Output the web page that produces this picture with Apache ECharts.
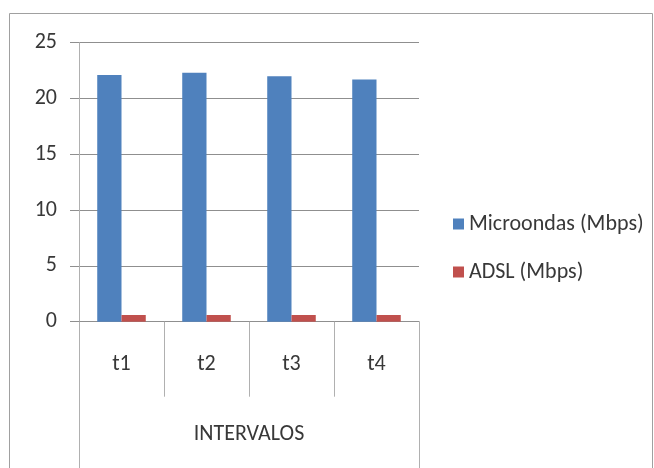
<!DOCTYPE html>
<html>
<head>
<meta charset="utf-8">
<script src="https://cdn.jsdelivr.net/npm/echarts@6/dist/echarts.min.js"></script>
<style>
  html, body { margin: 0; padding: 0; background: #ffffff; }
  #chart { width: 654px; height: 468px; }
</style>
</head>
<body>
<div id="chart"></div>
<script>
// Categories and values
const intervals = ['t1', 't2', 't3', 't4'];
const groupLabel = ['INTERVALOS'];
const microondas = [22.1, 22.3, 22.0, 21.7];
const adsl = [0.6, 0.6, 0.6, 0.6];
const seriesNames = ['Microondas (Mbps)', 'ADSL (Mbps)'];
const yTicks = { min: 0, max: 25, step: 5 };

const FONT = 'Carlito, Lato, "Liberation Sans", sans-serif';
const FONT_SIZE = 22;
const TEXT = '#383838';
const GRID = '#8f8f8f';
const FRAME = '#b0b0b0';

const chart = echarts.init(document.getElementById('chart'), null, { renderer: 'canvas' });

chart.setOption({
  backgroundColor: '#ffffff',
  animation: false,
  textStyle: { fontFamily: FONT },
  graphic: [{
    type: 'rect',
    silent: true,
    shape: { x: 9.5, y: 13.5, width: 643, height: 520 },
    style: { fill: 'none', stroke: '#a0a0a0', lineWidth: 1 }
  }],
  grid: { left: 79, right: 235, top: 42.7, bottom: 146.3, containLabel: false },
  legend: {
    orient: 'vertical',
    left: 453,
    top: 213,
    padding: 0,
    itemWidth: 11,
    itemHeight: 11,
    itemGap: 26,
    icon: 'rect',
    data: seriesNames,
    textStyle: { fontFamily: FONT, fontSize: FONT_SIZE, color: TEXT, lineHeight: 22 }
  },
  xAxis: [{
    type: 'category',
    data: intervals,
    position: 'bottom',
    boundaryGap: true,
    axisLine: { show: true, lineStyle: { color: GRID, width: 1 } },
    axisTick: { show: true, interval: 0, length: 75, lineStyle: { color: FRAME } },
    axisLabel: { margin: 32, fontFamily: FONT, fontSize: FONT_SIZE, color: TEXT, lineHeight: 22 }
  }, {
    type: 'category',
    data: groupLabel,
    position: 'bottom',
    boundaryGap: true,
    axisLine: { show: false },
    axisTick: { show: true, length: 150, lineStyle: { color: FRAME } },
    axisLabel: { margin: 102, fontFamily: FONT, fontSize: FONT_SIZE, color: TEXT, lineHeight: 22 }
  }],
  yAxis: {
    type: 'value',
    min: yTicks.min,
    max: yTicks.max,
    interval: yTicks.step,
    axisLine: { show: true, lineStyle: { color: FRAME } },
    axisTick: { show: true, length: 9, lineStyle: { color: GRID } },
    splitLine: { show: true, lineStyle: { color: GRID, width: 1 } },
    axisLabel: { margin: 22, fontFamily: FONT, fontSize: FONT_SIZE, color: TEXT }
  },
  series: [{
    name: seriesNames[0],
    type: 'bar',
    data: microondas,
    itemStyle: { color: '#4f81bd' },
    barGap: '0%',
    barCategoryGap: '42.9%'
  }, {
    name: seriesNames[1],
    type: 'bar',
    data: adsl,
    itemStyle: { color: '#c0504d' },
    barGap: '0%',
    barCategoryGap: '42.9%'
  }]
});
</script>
</body>
</html>
